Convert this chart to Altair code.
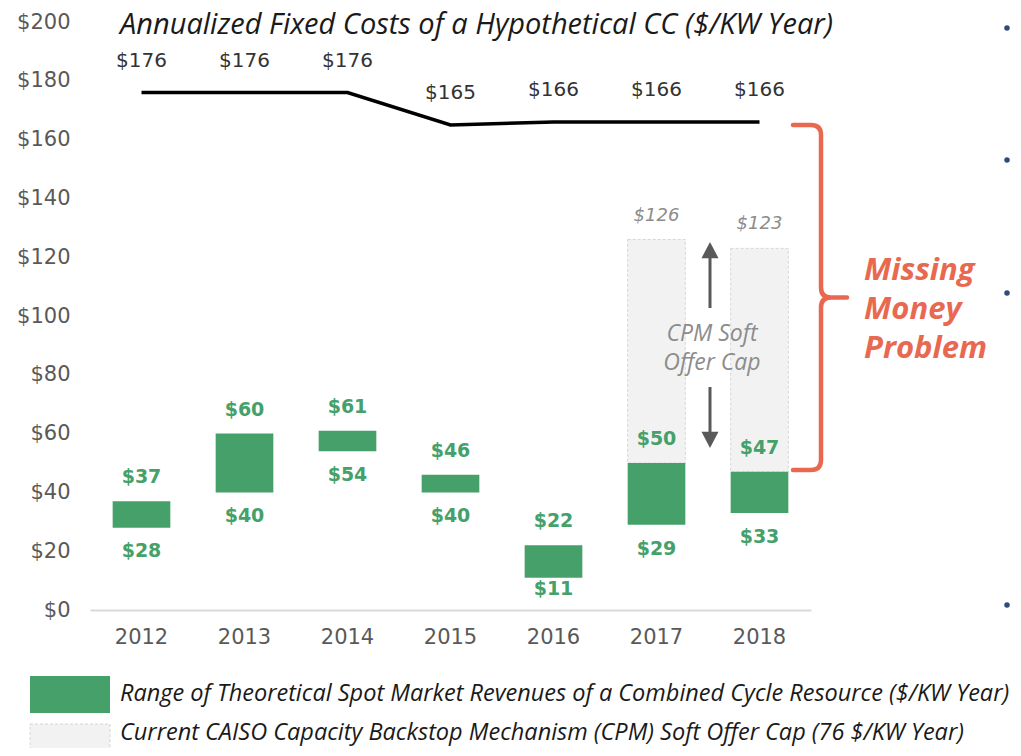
import altair as alt
import pandas as pd

# ---------------- data ----------------
years = ["2012", "2013", "2014", "2015", "2016", "2017", "2018"]
fixed_cost = [176, 176, 176, 165, 166, 166, 166]
rev_low = [28, 40, 54, 40, 11, 29, 33]
rev_high = [37, 60, 61, 46, 22, 50, 47]
cap_years = ["2017", "2018"]
cap_base = [50, 47]
cap_top = [126, 123]
y_ticks = [0, 20, 40, 60, 80, 100, 120, 140, 160, 180, 200]

title_text = "Annualized Fixed Costs of a Hypothetical CC ($/KW Year)"
legend_green = "Range of Theoretical Spot Market Revenues of a Combined Cycle Resource ($/KW Year)"
legend_gray = "Current CAISO Capacity Backstop Mechanism (CPM) Soft Offer Cap (76 $/KW Year)"
cpm_top = "CPM Soft"
cpm_bottom = "Offer Cap"
missing_lines = ["Missing", "Money", "Problem"]

df = pd.DataFrame({"year": years, "cost": fixed_cost, "low": rev_low, "high": rev_high})
df["cost_lbl"] = ["$" + str(v) for v in df["cost"]]
df["low_lbl"] = ["$" + str(v) for v in df["low"]]
df["high_lbl"] = ["$" + str(v) for v in df["high"]]
cap = pd.DataFrame({"year": cap_years, "base": cap_base, "top": cap_top})
cap["top_lbl"] = ["$" + str(v) for v in cap["top"]]
one = pd.DataFrame({"k": [0]})

GREEN = "#46a06a"
RED = "#e8694f"
NUMFONT = "DejaVu Sans"
TXTFONT = "Open Sans"

xs = alt.Scale(domain=years, paddingInner=0.44, paddingOuter=0.22)
ys = alt.Scale(domain=[0, 200], nice=False)
y_axis = alt.Axis(values=y_ticks, labelExpr="'$' + datum.value", title=None)
x_axis = alt.Axis(title=None)


def X():
    return alt.X("year:N", sort=years, scale=xs, axis=x_axis)


def Y(f):
    return alt.Y(f, scale=ys, axis=y_axis)


cap_bars = alt.Chart(cap).mark_bar(
    fill="#f2f2f2", stroke="#d6d6d6", strokeDash=[3, 2], strokeWidth=1
).encode(x=X(), y=Y("base:Q"), y2="top:Q")

green_bars = alt.Chart(df).mark_bar(color=GREEN).encode(x=X(), y=Y("low:Q"), y2="high:Q")

cost_line = alt.Chart(df).mark_line(color="black", strokeWidth=3.5).encode(x=X(), y=Y("cost:Q"))

cost_text = alt.Chart(df).mark_text(
    dy=-32, fontSize=20, font=NUMFONT, color="#333333"
).encode(x=X(), y=Y("cost:Q"), text="cost_lbl:N")

high_text = alt.Chart(df).mark_text(
    dy=-24, fontSize=19, font=NUMFONT, fontWeight="bold", color=GREEN
).encode(x=X(), y=Y("high:Q"), text="high_lbl:N")

# low labels sit ~24px under the bar, but never lower than just above the axis
low_text = alt.Chart(df).transform_calculate(
    lbl_y="max(datum.low - 8.1, 7.1)"
).mark_text(
    fontSize=19, font=NUMFONT, fontWeight="bold", color=GREEN
).encode(x=X(), y=Y("lbl_y:Q"), text="low_lbl:N")

cap_text = alt.Chart(cap).mark_text(
    dy=-24, fontSize=18, font=NUMFONT, fontStyle="italic", color="#8c8c8c"
).encode(x=X(), y=Y("top:Q"), text="top_lbl:N")

# ---------------- annotations ----------------
title = alt.Chart(one).mark_text(
    align="left", baseline="alphabetic", fontSize=29, font=TXTFONT, fontStyle="italic", color="#1a1a1a"
).encode(x=alt.value(30), y=alt.value(12), text=alt.value(title_text))

arrow_up_shaft = alt.Chart(one).mark_rule(color="#595959", strokeWidth=3).encode(
    x=alt.value(620), y=alt.value(235), y2=alt.value(286))
arrow_dn_shaft = alt.Chart(one).mark_rule(color="#595959", strokeWidth=3).encode(
    x=alt.value(620), y=alt.value(365), y2=alt.value(413))
arrow_up_head = alt.Chart(one).mark_point(
    shape="M 0 -1 L 1 0.9 L -1 0.9 Z", filled=True, color="#595959", opacity=1, size=289
).encode(x=alt.value(620), y=alt.value(228.5))
arrow_dn_head = alt.Chart(one).mark_point(
    shape="M 0 1 L 1 -0.9 L -1 -0.9 Z", filled=True, color="#595959", opacity=1, size=289
).encode(x=alt.value(620), y=alt.value(417.5))

cpm_text_top = alt.Chart(one).mark_text(
    align="center", baseline="alphabetic", fontSize=23, font=TXTFONT, fontStyle="italic",
    color="#8c8c8c"
).encode(x=alt.value(622), y=alt.value(319), text=alt.value(cpm_top))
cpm_text_bottom = alt.Chart(one).mark_text(
    align="center", baseline="alphabetic", fontSize=23, font=TXTFONT, fontStyle="italic",
    color="#8c8c8c"
).encode(x=alt.value(622), y=alt.value(348), text=alt.value(cpm_bottom))

s = 172.5
Lx = -28 / s
Tx = 26 / s
r = 10 / s
brace_path = (
    f"M {Lx:.4f} -1 L {-r:.4f} -1 Q 0 -1 0 {-1 + r:.4f} L 0 {-r:.4f} Q 0 0 {r:.4f} 0 "
    f"L {Tx:.4f} 0 M {r:.4f} 0 Q 0 0 0 {r:.4f} L 0 {1 - r:.4f} Q 0 1 {-r:.4f} 1 L {Lx:.4f} 1"
)
brace = alt.Chart(one).mark_point(
    shape=brace_path, filled=False, stroke=RED, strokeWidth=4.5, opacity=1,
    size=(2 * s) ** 2, strokeCap="round", strokeJoin="round"
).encode(x=alt.value(731), y=alt.value(275.5))

missing_text = alt.Chart(one).mark_text(
    align="left", baseline="middle", fontSize=31, font=TXTFONT, fontStyle="italic",
    fontWeight="bold", color=RED, lineHeight=39
).encode(x=alt.value(774), y=alt.value(249), text=alt.value(missing_lines))

leg_green_box = alt.Chart(one).mark_rect(color=GREEN).encode(
    x=alt.value(-60), x2=alt.value(20), y=alt.value(654), y2=alt.value(691))
leg_gray_box = alt.Chart(one).mark_rect(
    fill="#f2f2f2", stroke="#d6d6d6", strokeDash=[3, 2], strokeWidth=1
).encode(x=alt.value(-60), x2=alt.value(20), y=alt.value(702), y2=alt.value(745))
leg_green_text = alt.Chart(one).mark_text(
    align="left", baseline="alphabetic", fontSize=23.5, font=TXTFONT, fontStyle="italic", color="#1a1a1a"
).encode(x=alt.value(30), y=alt.value(679), text=alt.value(legend_green))
leg_gray_text = alt.Chart(one).mark_text(
    align="left", baseline="alphabetic", fontSize=23.5, font=TXTFONT, fontStyle="italic", color="#1a1a1a"
).encode(x=alt.value(30), y=alt.value(718), text=alt.value(legend_gray))

bullets = [
    alt.Chart(one).mark_point(filled=True, color="#2f4b7c", opacity=1, size=30, shape="circle").encode(
        x=alt.value(917), y=alt.value(by))
    for by in (6, 138, 271, 583)
]

chart = alt.layer(
    cap_bars, green_bars, cost_line, cost_text, high_text, low_text, cap_text,
    title, arrow_up_shaft, arrow_dn_shaft, arrow_up_head, arrow_dn_head,
    cpm_text_top, cpm_text_bottom,
    brace, missing_text, leg_green_box, leg_gray_box, leg_green_text, leg_gray_text,
    *bullets
).properties(
    width=721, height=588,
    padding={"left": 82, "top": 14, "right": 202, "bottom": 138},
    autosize="none",
).configure_view(stroke=None).configure_axisY(
    domain=False, ticks=False, tickSize=0, grid=False, labelPadding=20,
    labelFontSize=21, labelColor="#595959", labelFont=NUMFONT
).configure_axisX(
    domainColor="#d9d9d9", domainWidth=2, ticks=False, tickSize=0, grid=False,
    labelAngle=0, labelPadding=16, labelFontSize=21, labelColor="#595959", labelFont=NUMFONT
)

chart.save("out.html", embed_options={"renderer": "svg", "actions": False})
